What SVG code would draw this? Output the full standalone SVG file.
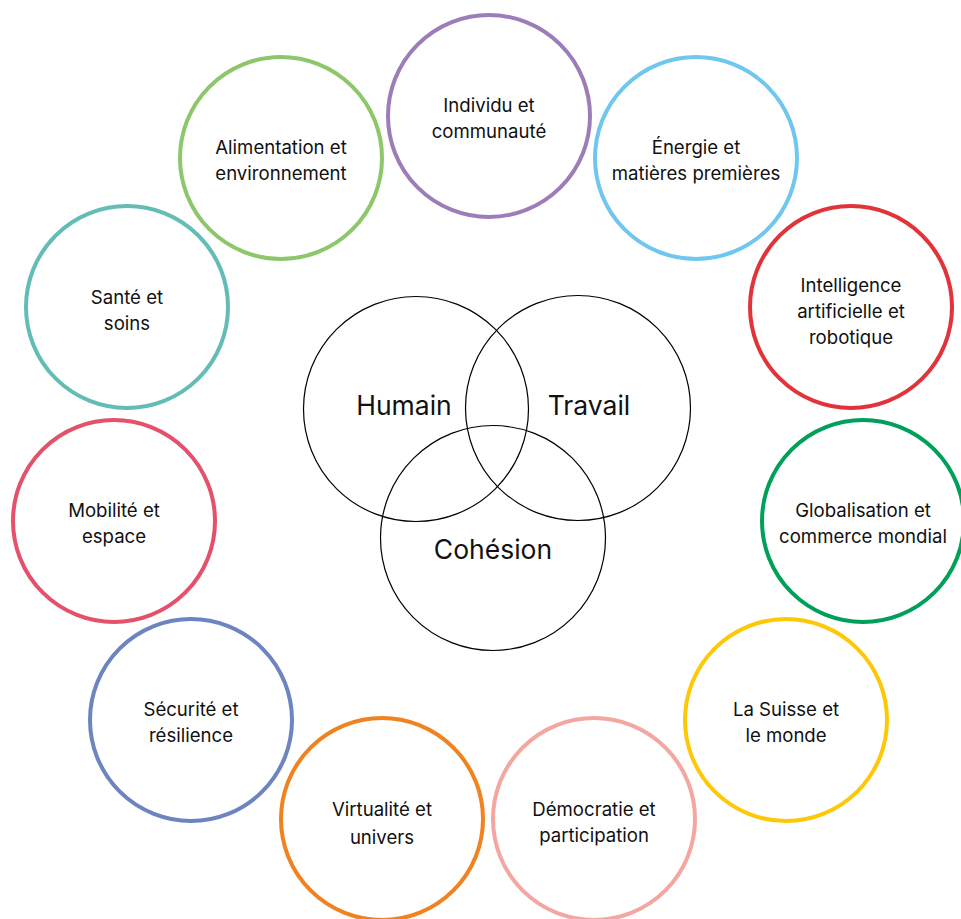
<svg xmlns="http://www.w3.org/2000/svg" width="961" height="919" viewBox="0 0 961 919">
<style>
.t{fill:none;stroke-width:4}
.v{fill:none;stroke:#000;stroke-width:1.2}
text{font-family:Inter,"Noto Sans","Liberation Sans",sans-serif;fill:#111;text-anchor:middle}
.l{font-size:18.6px}
.b{font-size:26.5px}
</style>
<rect width="961" height="919" fill="#fff"/>
<g id="venn">
<g id="humain"><circle class="v" cx="416" cy="409" r="112.5"/><text class="b" x="404" y="415">Humain</text></g>
<g id="travail"><circle class="v" cx="578" cy="408" r="112.5"/><text class="b" x="589" y="415">Travail</text></g>
<g id="cohesion"><circle class="v" cx="493" cy="538" r="112.5"/><text class="b" x="493" y="559">Cohésion</text></g>
</g>
<g id="individu"><circle class="t" stroke="#9D7DB7" cx="489" cy="116" r="101"/><text class="l" x="489" y="112">Individu et</text><text class="l" x="489" y="138">communauté</text></g>
<g id="energie"><circle class="t" stroke="#6FC6EE" cx="696" cy="158" r="101"/><text class="l" x="696" y="154">Énergie et</text><text class="l" x="696" y="180">matières premières</text></g>
<g id="alimentation"><circle class="t" stroke="#8DC66B" cx="281" cy="158" r="101"/><text class="l" x="281" y="154">Alimentation et</text><text class="l" x="281" y="180">environnement</text></g>
<g id="sante"><circle class="t" stroke="#63BCB5" cx="127" cy="307" r="101"/><text class="l" x="127" y="304">Santé et</text><text class="l" x="127" y="330">soins</text></g>
<g id="intelligence"><circle class="t" stroke="#E2333B" cx="851" cy="307" r="101"/><text class="l" x="851" y="292">Intelligence</text><text class="l" x="851" y="318">artificielle et</text><text class="l" x="851" y="344">robotique</text></g>
<g id="mobilite"><circle class="t" stroke="#E5506A" cx="114" cy="521" r="101"/><text class="l" x="114" y="517">Mobilité et</text><text class="l" x="114" y="543">espace</text></g>
<g id="globalisation"><circle class="t" stroke="#00A05B" cx="863" cy="521" r="101"/><text class="l" x="863" y="517">Globalisation et</text><text class="l" x="863" y="543">commerce mondial</text></g>
<g id="securite"><circle class="t" stroke="#6D84C0" cx="191" cy="720" r="101"/><text class="l" x="191" y="716">Sécurité et</text><text class="l" x="191" y="742">résilience</text></g>
<g id="suisse"><circle class="t" stroke="#FFC806" cx="786" cy="720" r="101"/><text class="l" x="786" y="716">La Suisse et</text><text class="l" x="786" y="742">le monde</text></g>
<g id="virtualite"><circle class="t" stroke="#F0821F" cx="382" cy="819" r="101"/><text class="l" x="382" y="816">Virtualité et</text><text class="l" x="382" y="844">univers</text></g>
<g id="democratie"><circle class="t" stroke="#F4A6A1" cx="594" cy="819" r="101"/><text class="l" x="594" y="816">Démocratie et</text><text class="l" x="594" y="842">participation</text></g>
<g id="connectors"/>
</svg>
